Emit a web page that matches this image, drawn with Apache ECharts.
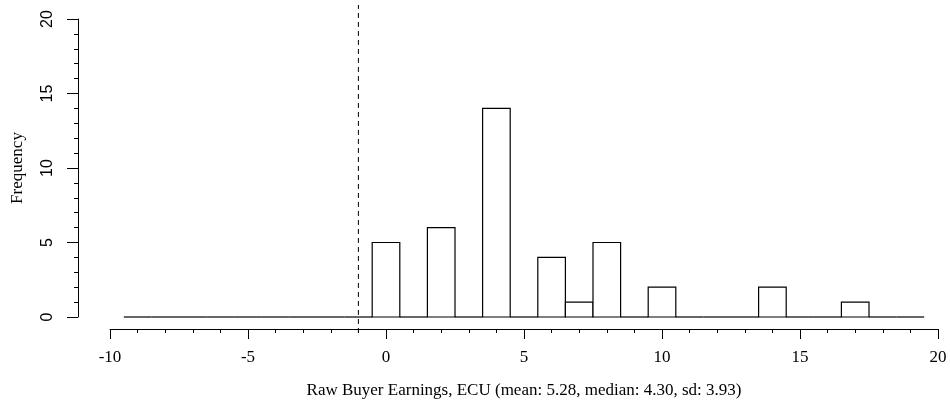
<!DOCTYPE html>
<html>
<head>
<meta charset="utf-8">
<script src="https://cdn.jsdelivr.net/npm/echarts@6/dist/echarts.min.js"></script>
<style>html,body{margin:0;padding:0;background:#fff;}#c{width:950px;height:406px;}</style>
</head>
<body>
<div id="c"></div>
<script>
// Histogram bins (centers, width 1) and counts
const binCenters = [-9,-8,-7,-6,-5,-4,-3,-2,-1,0,1,2,3,4,5,6,7,8,9,10,11,12,13,14,15,16,17,18,19];
const counts     = [ 0, 0, 0, 0, 0, 0, 0, 0, 0,5,0,6,0,14,0,4,1,5,0,2,0,0,0,2,0,0,1,0,0];
const binWidth = 1;
// Reference line
const refX = -1;
const refSpan = [-1.07, 20.94];
// Axis ticks
const xTicks = [-10, -5, 0, 5, 10, 15, 20];
const yTicks = [0, 5, 10, 15, 20];
const xTitle = 'Raw Buyer Earnings, ECU (mean: 5.28, median: 4.30, sd: 3.93)';
const yTitle = 'Frequency';

const chart = echarts.init(document.getElementById('c'), null, {renderer: 'canvas'});
const serif = 'Liberation Serif, Times New Roman, serif';
const sans = 'Liberation Sans, Arial, sans-serif';

const histData = binCenters.map((c, i) => [c, counts[i]]);

chart.setOption({
  animation: false,
  backgroundColor: '#ffffff',
  grid: {left: 110, right: 12, top: 19, bottom: 89, containLabel: false},
  xAxis: {
    type: 'value', min: xTicks[0], max: xTicks[xTicks.length - 1], interval: 5,
    offset: 12,
    axisLine: {show: true, onZero: false, lineStyle: {color: '#000', width: 1}},
    axisTick: {show: true, length: 10, lineStyle: {color: '#000', width: 1}},
    minorTick: {show: true, splitNumber: 5, length: 4, lineStyle: {color: '#000', width: 1}},
    splitLine: {show: false},
    axisLabel: {color: '#000', fontFamily: serif, fontSize: 17, margin: 20},
    name: xTitle, nameLocation: 'middle', nameGap: 53,
    nameTextStyle: {color: '#000', fontFamily: serif, fontSize: 17}
  },
  yAxis: {
    type: 'value', min: yTicks[0], max: yTicks[yTicks.length - 1], interval: 5,
    offset: 32,
    axisLine: {show: true, onZero: false, lineStyle: {color: '#000', width: 1}},
    axisTick: {show: true, length: 11, lineStyle: {color: '#000', width: 1}},
    minorTick: {show: true, splitNumber: 5, length: 4, lineStyle: {color: '#000', width: 1}},
    splitLine: {show: false},
    axisLabel: {color: '#000', fontFamily: sans, fontSize: 16, rotate: 90, margin: 22},
    name: yTitle, nameLocation: 'middle', nameGap: 52,
    nameTextStyle: {color: '#000', fontFamily: serif, fontSize: 17}
  },
  series: [
    {
      type: 'custom',
      data: histData,
      clip: false,
      renderItem: function (params, api) {
        const c = api.value(0), n = api.value(1);
        const p0 = api.coord([c - binWidth / 2, 0]);
        const p1 = api.coord([c + binWidth / 2, n]);
        if (n > 0) {
          return {
            type: 'rect',
            shape: {x: p0[0], y: p1[1], width: p1[0] - p0[0], height: p0[1] - p1[1]},
            style: {fill: '#fff', stroke: '#000', lineWidth: 1.2}
          };
        }
        return {
          type: 'line',
          shape: {x1: p0[0], y1: p0[1], x2: p1[0], y2: p0[1]},
          style: {stroke: '#000', lineWidth: 1.2}
        };
      }
    },
    {
      type: 'line',
      data: [[refX, refSpan[0]], [refX, refSpan[1]]],
      clip: false,
      symbol: 'none',
      silent: true,
      lineStyle: {color: '#000', width: 1, type: [5, 4]}
    }
  ]
});
</script>
</body>
</html>
